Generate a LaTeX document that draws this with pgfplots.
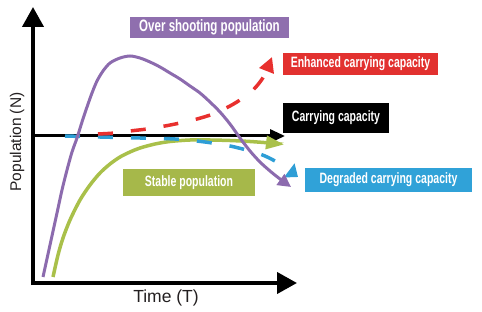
\documentclass[border=0pt]{standalone}
\usepackage{pgfplots}
\pgfplotsset{compat=1.18}
\usepackage{fontspec}
\setmainfont{Liberation Sans}
\newfontfamily\cond{Liberation Sans}[FakeStretch=0.7]
\usetikzlibrary{arrows.meta}
\definecolor{cpurple}{HTML}{8C6BAE}
\definecolor{cred}{HTML}{E8302E}
\definecolor{cgreen}{HTML}{A9C04A}
\definecolor{cblue}{HTML}{2E9ED6}
\definecolor{cpurplebox}{HTML}{8F6FAE}
\definecolor{cgreenbox}{HTML}{A6B84A}
\definecolor{cbluebox}{HTML}{30A2D8}
\definecolor{credbox}{HTML}{E2312F}
\definecolor{ctext}{HTML}{231F20}
\begin{document}
\begin{tikzpicture}
\begin{axis}[
  scale only axis, width=482pt, height=311pt,
  xmin=-33, xmax=449, ymin=-28, ymax=283,
  hide axis, clip=false,
]
\path (rel axis cs:0,0) rectangle (rel axis cs:1,1);
% axes
\addplot[black, line width=4pt, -{Triangle[length=20pt,width=21pt]}] coordinates {(0,-2) (0,276)};
\addplot[black, line width=4pt, -{Triangle[length=20pt,width=21pt]}] coordinates {(-2,0) (264,0)};
% carrying capacity
\addplot[black, line width=3pt, -{Triangle[length=15pt,width=13pt]}] coordinates {(0,147) (252,147)};
% stable population
\addplot[cgreen, line width=3.5pt, smooth, -{Triangle[length=18pt,width=13pt]}] coordinates {
(20,6) (25,28) (30,45) (37,63) (47,83) (57,98) (67,110) (77,119) (87,126) (97,131)
(107,135) (122,139) (137,141.5) (157,143) (177,143) (197,142.5) (217,141.5) (237,140) (251,138.5)};
% degraded
\addplot[cblue, line width=3.5pt, smooth, dash pattern=on 15pt off 18pt, -{Triangle[length=11pt,width=17pt]}] coordinates {
(32,147) (67,146) (107,145) (142,144) (172,141) (197,137) (217,132) (232,127) (247,119) (265,106)};
% enhanced
\addplot[cred, line width=3.5pt, smooth, dash pattern=on 15pt off 18pt, -{Triangle[length=15pt,width=15pt]}] coordinates {
(65,149) (82,150) (97,152) (114,154) (132,157) (147,160) (164,164) (180,169) (197,177)
(210,185) (220,193) (227,201) (232,209) (239,226)};
% overshooting
\addplot[cpurple, line width=3pt, smooth, -{Triangle[length=13pt,width=13pt]}] coordinates {
(10,6) (17,38) (24,70) (29,93) (34,113) (39,131) (44,145) (49,161) (54,176) (59,190)
(64,202) (70,212) (77,220) (87,225) (97,227) (107,225) (117,221) (127,216) (137,210)
(147,204) (157,197) (167,190) (177,181) (187,171) (197,159) (207,145) (217,132)
(227,121) (237,112) (247,104) (258,96)};
% labels
\node[fill=cpurplebox, text=white, minimum width=159pt, minimum height=21pt, inner sep=0pt,
  font=\cond\bfseries\fontsize{16.5}{18}\selectfont] at (axis cs:176.5,255.5) {Over shooting population};
\node[fill=credbox, text=white, minimum width=155pt, minimum height=22pt, inner sep=0pt,
  font=\cond\bfseries\fontsize{15}{18}\selectfont] at (axis cs:327.5,219) {Enhanced carrying capacity};
\node[fill=black, text=white, minimum width=106pt, minimum height=30pt, inner sep=0pt,
  font=\cond\bfseries\fontsize{15}{18}\selectfont] at (axis cs:303,165) {Carrying capacity};
\node[fill=cbluebox, text=white, minimum width=167pt, minimum height=24pt, inner sep=0pt,
  font=\cond\bfseries\fontsize{15}{18}\selectfont] at (axis cs:355.5,103) {Degraded carrying capacity};
\node[fill=cgreenbox, text=white, minimum width=132pt, minimum height=27pt, inner sep=0pt,
  font=\cond\bfseries\fontsize{15}{18}\selectfont] at (axis cs:156,100.5) {Stable population};
% axis labels
\node[rotate=90, text=ctext, inner sep=0pt, font=\fontsize{15.5}{18}\selectfont] at (axis cs:-16,141) {Population (N)};
\node[text=ctext, inner sep=0pt, font=\fontsize{17.5}{20}\selectfont] at (axis cs:133,-14.5) {Time (T)};
\end{axis}
\end{tikzpicture}
\end{document}
